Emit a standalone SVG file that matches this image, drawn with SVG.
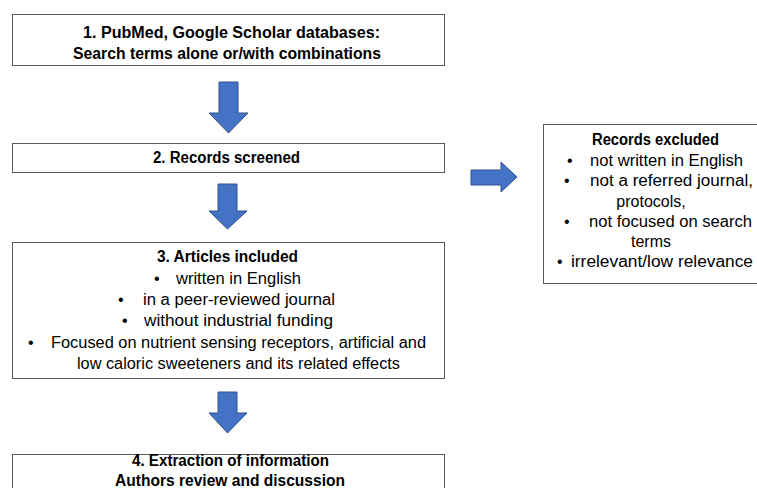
<svg xmlns="http://www.w3.org/2000/svg" width="757" height="488" viewBox="0 0 757 488">
<style>
  .box { fill: #ffffff; stroke: #595959; stroke-width: 1; }
  .arrow { fill: #4472C4; stroke: #2F528F; stroke-width: 1; }
  text { font-family: "Liberation Sans", Arial, sans-serif; font-size: 16px; fill: #000000; }
  .b { font-weight: bold; }
  .m { text-anchor: middle; }
</style>
<rect width="757" height="488" fill="#ffffff"/>
<g id="connectors">
  <polygon class="arrow" points="219,82 238,82 238,113 248,113 228.5,133 209,113 219,113"/>
  <polygon class="arrow" points="218,184 237,184 237,211 247,211 227.5,229 209,211 218,211"/>
  <polygon class="arrow" points="218,392 237,392 237,413 247,413 227.5,433 209,413 218,413"/>
  <polygon class="arrow" points="471,170 501,170 501,162 517,177 501,192 501,185 471,185"/>
</g>
<g id="node1">
  <rect class="box" x="12.5" y="14.5" width="432" height="51"/>
  <text class="b" x="83" y="38" textLength="297" lengthAdjust="spacingAndGlyphs">1. PubMed, Google Scholar databases:</text>
  <text class="b" x="73" y="59" textLength="308" lengthAdjust="spacingAndGlyphs">Search terms alone or/with combinations</text>
</g>
<g id="node2">
  <rect class="box" x="12.5" y="143.5" width="432" height="29"/>
  <text class="b" x="153" y="163" textLength="147" lengthAdjust="spacingAndGlyphs">2. Records screened</text>
</g>
<g id="node3">
  <rect class="box" x="12.5" y="242.5" width="432" height="136"/>
  <text class="b" x="157" y="262" textLength="141" lengthAdjust="spacingAndGlyphs">3. Articles included</text>
  <text x="154" y="283.5">•</text>
  <text x="176" y="283.5" textLength="125" lengthAdjust="spacingAndGlyphs">written in English</text>
  <text x="118" y="305">•</text>
  <text x="143" y="305" textLength="192" lengthAdjust="spacingAndGlyphs">in a peer-reviewed journal</text>
  <text x="122" y="326">•</text>
  <text x="144" y="326" textLength="189" lengthAdjust="spacingAndGlyphs">without industrial funding</text>
  <text x="28" y="348">•</text>
  <text x="51" y="348" textLength="375" lengthAdjust="spacingAndGlyphs">Focused on nutrient sensing receptors, artificial and</text>
  <text x="77" y="369" textLength="323" lengthAdjust="spacingAndGlyphs">low caloric sweeteners and its related effects</text>
</g>
<g id="node4">
  <rect class="box" x="12.5" y="454.5" width="432" height="60"/>
  <text class="b" x="132" y="466" textLength="197" lengthAdjust="spacingAndGlyphs">4. Extraction of information</text>
  <text class="b" x="115" y="486" textLength="230" lengthAdjust="spacingAndGlyphs">Authors review and discussion</text>
</g>
<g id="node5">
  <rect class="box" x="543.5" y="124.5" width="230" height="159"/>
  <text class="b" x="592" y="145" textLength="127" lengthAdjust="spacingAndGlyphs">Records excluded</text>
  <text x="567" y="166">•</text>
  <text x="590" y="166" textLength="153" lengthAdjust="spacingAndGlyphs">not written in English</text>
  <text x="564" y="186">•</text>
  <text x="590" y="186" textLength="163" lengthAdjust="spacingAndGlyphs">not a referred journal,</text>
  <text class="m" x="651" y="207">protocols,</text>
  <text x="564" y="227">•</text>
  <text x="589" y="227" textLength="163" lengthAdjust="spacingAndGlyphs">not focused on search</text>
  <text class="m" x="651" y="247">terms</text>
  <text x="557" y="267">•</text>
  <text x="571" y="267" textLength="182" lengthAdjust="spacingAndGlyphs">irrelevant/low relevance</text>
</g>
</svg>
